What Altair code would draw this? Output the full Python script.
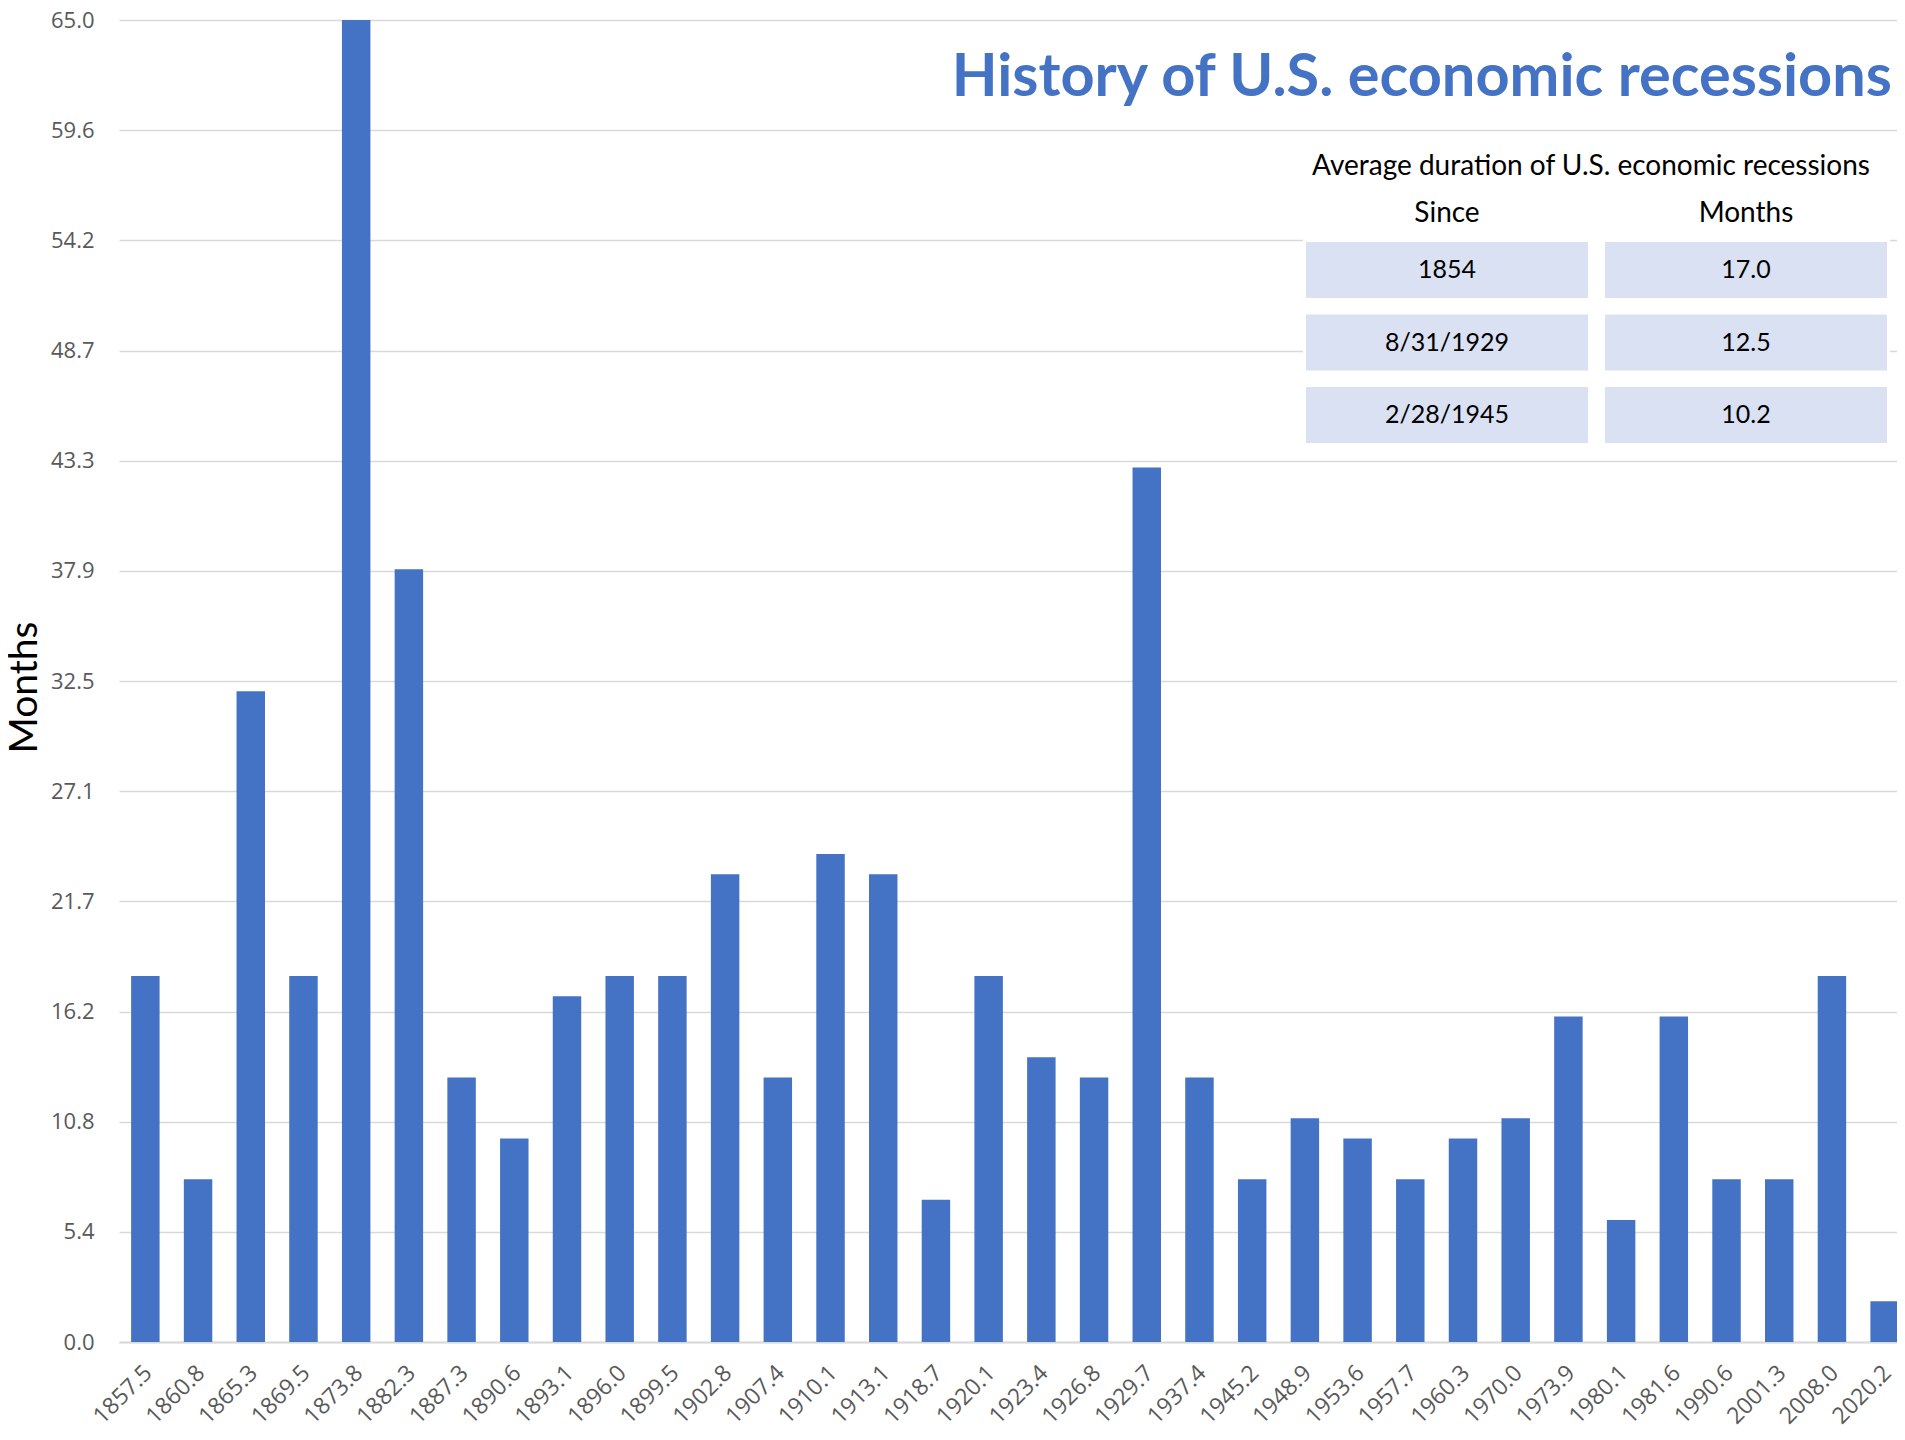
import altair as alt
import pandas as pd

# ---------------- data ----------------
periods = ["1857.5", "1860.8", "1865.3", "1869.5", "1873.8", "1882.3", "1887.3", "1890.6",
           "1893.1", "1896.0", "1899.5", "1902.8", "1907.4", "1910.1", "1913.1", "1918.7",
           "1920.1", "1923.4", "1926.8", "1929.7", "1937.4", "1945.2", "1948.9", "1953.6",
           "1957.7", "1960.3", "1970.0", "1973.9", "1980.1", "1981.6", "1990.6", "2001.3",
           "2008.0", "2020.2"]
months = [18, 8, 32, 18, 65, 38, 13, 10,
          17, 18, 18, 23, 13, 24, 23, 7,
          18, 14, 13, 43, 13, 8, 11, 10,
          8, 10, 11, 16, 6, 16, 8, 8,
          18, 2]
y_tick_labels = ["0.0", "5.4", "10.8", "16.2", "21.7", "27.1", "32.5",
                 "37.9", "43.3", "48.7", "54.2", "59.6", "65.0"]

chart_title = ["History of U.S. economic recessions"]
table_title = ["Average duration of U.S. economic recessions"]
table_columns = ["Since", "Months"]
since_labels = ["1854", "8/31/1929", "2/28/1945"]
avg_months = ["17.0", "12.5", "10.2"]

# ---------------- frames ----------------
bars_df = pd.DataFrame({"period": periods, "months": months})
table_df = pd.DataFrame({"row": list(range(len(since_labels))),
                         "since": since_labels, "avg": avg_months})
cols_df = pd.DataFrame({"col": list(range(len(table_columns))), "label": table_columns})
title_df = pd.DataFrame({"t": chart_title})
ttitle_df = pd.DataFrame({"t": table_title})

BLUE = "#4472C4"
CELL = "#D9E1F2"
GRID = "#D9D9D9"
GRAYTXT = "#595959"
FONT = "Lato"
NUMFONT = "Open Sans"

y_max = 65.0
y_vals = [i * y_max / 12 for i in range(13)]
label_expr = "[" + ",".join("'%s'" % s for s in y_tick_labels) + "][round(datum.value*12/65)]"

W, H = 1778, 1322
TOP = 12  # plot top inside the svg

bars = alt.Chart(bars_df).mark_bar(color=BLUE).encode(
    x=alt.X("period:N", sort=None,
            scale=alt.Scale(paddingInner=0.46, paddingOuter=0.23, range=[0, 1792]),
            axis=alt.Axis(title=None, labelAngle=-45, labelAlign="right", labelBaseline="middle",
                          labelFont=NUMFONT, labelFontSize=23, labelColor=GRAYTXT,
                          ticks=False, tickSize=0, labelPadding=27, labelOffset=3,
                          labelOverlap=False,
                          domainColor=GRID, domainWidth=2, grid=False)),
    y=alt.Y("months:Q", scale=alt.Scale(domain=[0, y_max], nice=False, zero=True),
            axis=alt.Axis(values=y_vals, labelExpr=label_expr, title="Months",
                          labelFont=NUMFONT, labelFontSize=22, labelColor=GRAYTXT,
                          labelFlush=False, labelOverlap=False,
                          ticks=False, tickSize=0, labelPadding=25, domain=False,
                          grid=True, gridColor=GRID, gridWidth=1.5,
                          titleFont=FONT, titleFontSize=39, titleFontWeight="normal",
                          titleColor="#000000", titleAngle=-90, titleAlign="center",
                          titleBaseline="middle", titleX=-95, titleY=667))
)

dy = TOP - 11
white_box = alt.Chart(ttitle_df).mark_rect(color="white").encode(
    x=alt.value(1184), x2=alt.value(1771), y=alt.value(117 - dy), y2=alt.value(433 - dy)
)

cells = alt.Chart(table_df).transform_calculate(
    ytop="%g + datum.row * 72.5" % (223 - dy), ybot="%g + datum.row * 72.5" % (279 - dy)
)
cells_since = cells.mark_rect(color=CELL).encode(
    x=alt.value(1187), x2=alt.value(1469),
    y=alt.Y("ytop:Q", scale=None, axis=None), y2="ybot:Q")
cells_avg = cells.mark_rect(color=CELL).encode(
    x=alt.value(1486), x2=alt.value(1768),
    y=alt.Y("ytop:Q", scale=None, axis=None), y2="ybot:Q")

cell_text = alt.Chart(table_df).transform_calculate(
    ymid="%g + datum.row * 72.5" % (251 - dy)
)
since_text = cell_text.mark_text(font=FONT, fontSize=25, align="center", baseline="middle",
                                 color="#000000").encode(
    x=alt.value(1328), y=alt.Y("ymid:Q", scale=None, axis=None), text="since:N")
avg_text = cell_text.mark_text(font=FONT, fontSize=25, align="center", baseline="middle",
                               color="#000000").encode(
    x=alt.value(1627), y=alt.Y("ymid:Q", scale=None, axis=None), text="avg:N")

col_heads = alt.Chart(cols_df).transform_calculate(
    xc="1328 + datum.col * 299"
).mark_text(font=FONT, fontSize=28, align="center", baseline="alphabetic",
            color="#000000").encode(
    x=alt.X("xc:Q", scale=None, axis=None), y=alt.value(203 - dy), text="label:N")

table_head = alt.Chart(ttitle_df).mark_text(font=FONT, fontSize=28, align="center",
                                            baseline="alphabetic", color="#000000").encode(
    x=alt.value(1472), y=alt.value(156 - dy), text="t:N")

main_title = alt.Chart(title_df).mark_text(font=FONT, fontSize=59.5, fontWeight="bold",
                                           align="right", baseline="alphabetic",
                                           color=BLUE).encode(
    x=alt.value(1773), y=alt.value(77 - dy), text="t:N")

chart = alt.layer(
    bars, white_box, cells_since, cells_avg, since_text, avg_text, col_heads, table_head, main_title
).resolve_scale(
    x="independent", y="independent"
).properties(
    width=W, height=H,
    autosize=alt.AutoSizeParams(type="none"),
    padding={"left": 111, "top": TOP, "right": 0, "bottom": 90},
    background="white",
).configure_view(stroke=None)

chart.save("out.html", embed_options={"renderer": "svg", "actions": False})
